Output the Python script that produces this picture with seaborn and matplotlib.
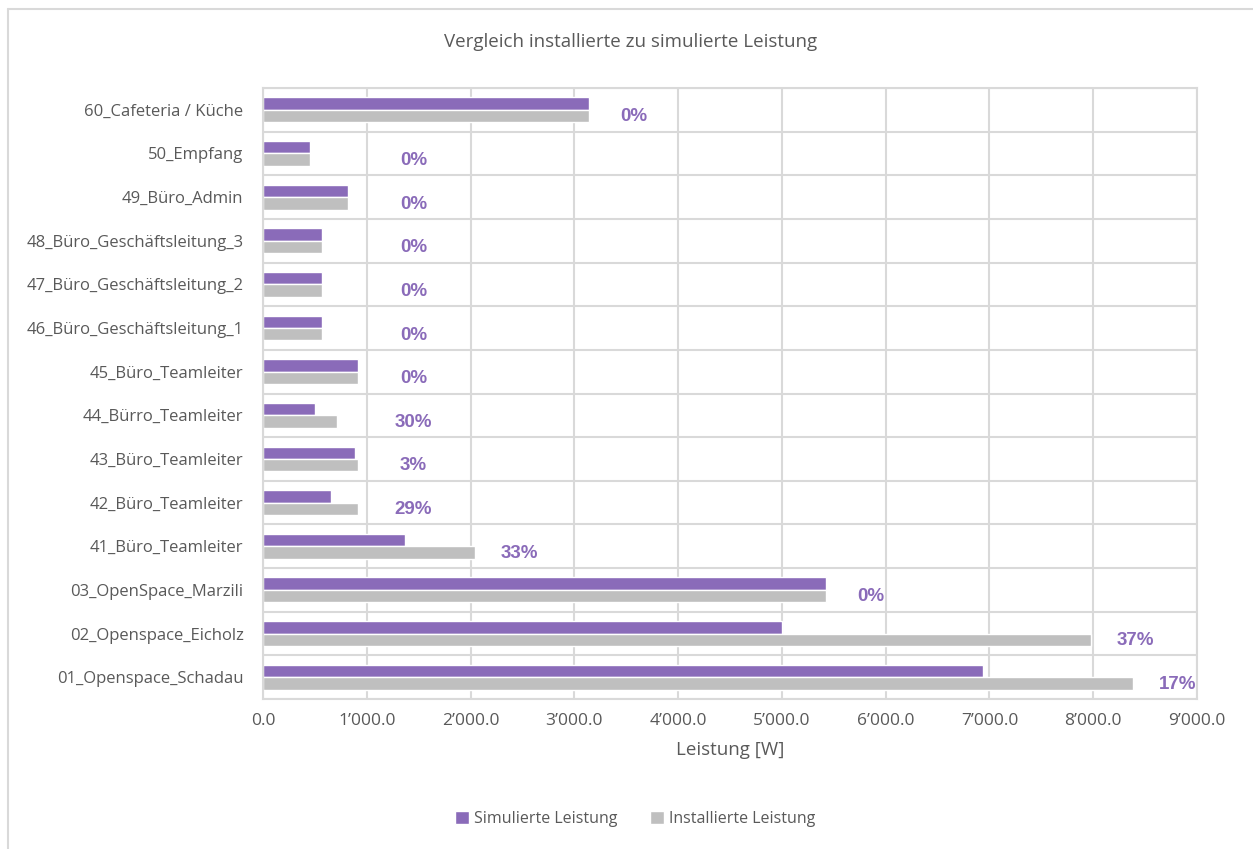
import pandas as pd
import seaborn as sns
import matplotlib.pyplot as plt
from matplotlib.lines import Line2D
from matplotlib.ticker import FuncFormatter, MultipleLocator

# data (top to bottom as in the chart)
raeume = ["60_Cafeteria / Küche", "50_Empfang", "49_Büro_Admin",
          "48_Büro_Geschäftsleitung_3", "47_Büro_Geschäftsleitung_2",
          "46_Büro_Geschäftsleitung_1", "45_Büro_Teamleiter", "44_Bürro_Teamleiter",
          "43_Büro_Teamleiter", "42_Büro_Teamleiter", "41_Büro_Teamleiter",
          "03_OpenSpace_Marzili", "02_Openspace_Eicholz", "01_Openspace_Schadau"]
simuliert = [3140, 453, 819, 568, 568, 568, 915, 500, 886, 655, 1368, 5424, 5000, 6936]
installiert = [3140, 453, 819, 568, 568, 568, 915, 713, 915, 915, 2042, 5424, 7977, 8381]
abweichung = ["0%", "0%", "0%", "0%", "0%", "0%", "0%", "30%", "3%", "29%", "33%", "0%", "37%", "17%"]
serien = ["Simulierte Leistung", "Installierte Leistung"]

df = pd.DataFrame({
    "Raum": raeume * 2,
    "Leistung": simuliert + installiert,
    "Typ": [serien[0]] * len(raeume) + [serien[1]] * len(raeume),
})

sns.set_theme(style="white")
plt.rcParams['font.family'] = ['Open Sans', 'DejaVu Sans']

purple = "#8A6BB9"
grey = "#BFBFBF"
textcol = "#595959"
gridcol = "#D9D9D9"

fig = plt.figure(figsize=(12.53, 8.49), dpi=100)
ax = fig.add_axes([263/1253, 1 - 699/849, (1197 - 263)/1253, (699 - 88)/849])

sns.barplot(data=df, y="Raum", x="Leistung", hue="Typ", order=raeume, hue_order=serien,
            palette=[purple, grey], orient="h", width=0.57, saturation=1, ax=ax, legend=True)

# percentage labels next to the bars
for i, txt in enumerate(abweichung):
    ax.text(max(installiert[i] + 430, 1450), i + 0.16, txt, ha="center", va="center",
            fontsize=13.5, fontweight="bold", color=purple, family=['Liberation Sans'])

ax.set_xlim(0, 9000)
ax.set_ylim(len(raeume) - 0.5, -0.5)
ax.xaxis.set_major_locator(MultipleLocator(1000))
ax.xaxis.set_major_formatter(FuncFormatter(lambda v, p: f"{v:,.1f}".replace(",", "\u2019")))
ax.set_yticks([i + 0.5 for i in range(-1, len(raeume))], minor=True)
ax.grid(axis="x", which="major", color=gridcol, lw=1.5)
ax.grid(axis="y", which="minor", color=gridcol, lw=1.5)
ax.set_axisbelow(True)
for s in ax.spines.values():
    s.set_color(gridcol)
    s.set_linewidth(1.5)
ax.tick_params(axis="both", which="both", length=0, colors=textcol)
ax.tick_params(axis="y", pad=14, labelsize=12)
ax.tick_params(axis="x", pad=10, labelsize=12.5)
ax.set_ylabel("")
ax.set_xlabel("Leistung [W]", fontsize=13.5, color=textcol, labelpad=9)

handles, labels = ax.get_legend_handles_labels()
ax.get_legend().remove()
fig.legend(handles, labels, loc="center", bbox_to_anchor=(635/1253, 1 - 819/849), ncol=2,
           frameon=False, fontsize=11.5, labelcolor=textcol, handlelength=0.9, handleheight=0.9,
           handletextpad=0.3, columnspacing=2.0)

fig.text(631/1253, 1 - 42/849, "Vergleich installierte zu simulierte Leistung",
         ha="center", va="center", fontsize=13.5, color=textcol)

# chart border (left and top visible)
fig.add_artist(Line2D([8/1253, 8/1253], [0, 1 - 9/849], color=gridcol, lw=1.5))
fig.add_artist(Line2D([8/1253, 1], [1 - 9/849, 1 - 9/849], color=gridcol, lw=1.5))

plt.savefig("out.png", dpi=100, facecolor="w")
